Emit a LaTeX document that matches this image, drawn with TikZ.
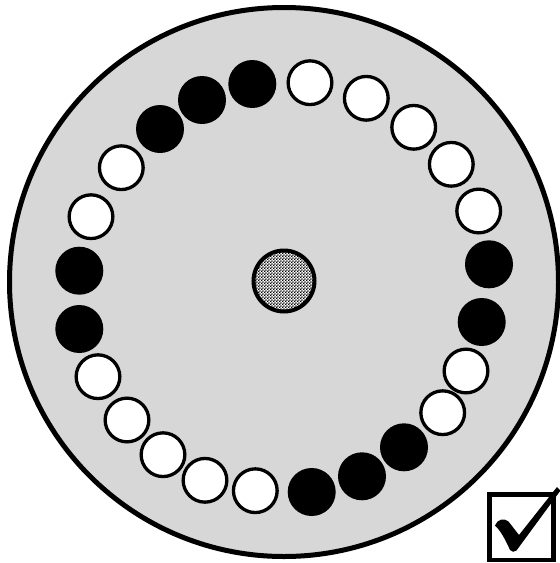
\documentclass[tikz,border=0pt]{standalone}
\usetikzlibrary{patterns}
\definecolor{plategray}{RGB}{215,215,215}
\pgfdeclarepatternformonly{finechecker}{\pgfpointorigin}{\pgfpoint{2.8pt}{2.8pt}}{\pgfpoint{2.8pt}{2.8pt}}{%
  \pgfpathrectangle{\pgfpointorigin}{\pgfpoint{1.4pt}{1.4pt}}%
  \pgfpathrectangle{\pgfpoint{1.4pt}{1.4pt}}{\pgfpoint{1.4pt}{1.4pt}}%
  \pgfusepath{fill}}
\tikzset{
  plate/.style={circle, draw=black, line width=5pt, fill=plategray, minimum size=549pt, inner sep=0pt},
  whitedot/.style={circle, draw=black, fill=white, line width=3.3pt, minimum size=43.7pt, inner sep=0pt},
  blackdot/.style={circle, fill=black, minimum size=48pt, inner sep=0pt},
  hubdot/.style={circle, draw=black, line width=4pt, preaction={fill=white}, pattern=finechecker, pattern color=black, minimum size=61pt, inner sep=0pt},
  tickbox/.style={rectangle, draw=black, line width=4.8pt, fill=white, minimum width=64.5pt, minimum height=65.3pt, inner sep=0pt},
  tickmark/.style={fill=black},
}
\begin{document}
\begin{tikzpicture}[x=1pt,y=-1pt]
\useasboundingbox (0,0) rectangle (560,563);
\node[plate] (plate) at (284,282) {};
\foreach \i/\x/\y/\s in {
  1/252.3/84/blackdot, 2/310/82.7/whitedot, 3/366.3/98.3/whitedot,
  4/413.7/127.3/whitedot, 5/451.3/164.3/whitedot, 6/478.7/211/whitedot,
  7/489/264.3/blackdot, 8/481.7/322/blackdot, 9/466/371/whitedot,
  10/442.7/412.7/whitedot, 11/404/447.3/blackdot, 12/362/476.3/blackdot,
  13/311.7/492/blackdot, 14/255.3/490.7/whitedot, 15/205/480.3/whitedot,
  16/163/454.7/whitedot, 17/127/420/whitedot, 18/98/376.7/whitedot,
  19/79.3/329/blackdot, 20/79.3/270.7/blackdot, 21/91/216.7/whitedot,
  22/121.3/167.7/whitedot, 23/160/129/blackdot, 24/202/100/blackdot}
  \node[\s] (d\i) at (\x,\y) {};
\node[hubdot] (hub) at (284,281) {};
\node[tickbox] (box) at (521.5,527.3) {};
\fill[tickmark] (495,525.5) .. controls (497,519.5) and (504,517.5) .. (508.5,521.5)
  -- (519,535) -- (557,487) -- (560.5,490.5) -- (516.5,550.5)
  .. controls (514.5,552.5) and (511.5,552) .. (510,550)
  .. controls (506,541) and (501,531) .. (495,525.5) -- cycle;
\end{tikzpicture}
\end{document}
